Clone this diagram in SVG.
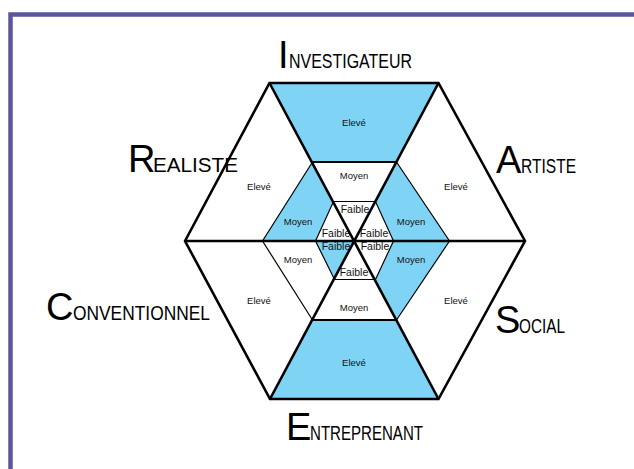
<svg xmlns="http://www.w3.org/2000/svg" width="634" height="469" viewBox="0 0 634 469">
<style>
.blue{fill:#7fd3f5;stroke:none}
.thick{stroke:#000;stroke-width:2.6;fill:none;stroke-linejoin:miter}
.mid{stroke:#000;stroke-width:1.8;fill:none}
.thin{stroke:#000;stroke-width:1.2;fill:none}
.lbl{font-family:"Liberation Sans",Arial,sans-serif;font-size:9.5px;fill:#111;text-anchor:middle}
.fb{font-family:"Liberation Sans",Arial,sans-serif;font-size:10.5px;fill:#111;text-anchor:middle}
.big{font-family:"Liberation Sans",Arial,sans-serif;font-size:38px;fill:#000}
.sm{font-family:"Liberation Sans",Arial,sans-serif;font-size:21px;fill:#000}
</style>
<rect x="0" y="0" width="634" height="469" fill="#fff"/>
<rect x="10.5" y="14.5" width="700" height="500" fill="none" stroke="#5b569b" stroke-width="4.5"/>

<g id="fills">
<polygon class="blue" points="269.5,83 438.5,83 396.5,162 312.5,162"/>
<polygon class="blue" points="312.5,320 396.5,320 438.5,399 270,399"/>
<polygon class="blue" points="312.5,162 333.5,201.5 315.5,241 262.5,241"/>
<polygon class="blue" points="396.5,162 449.5,241 393.5,241 375.5,201.5"/>
<polygon class="blue" points="393.5,241 449.5,241 396.5,320 375.5,279.5"/>
<polygon class="blue" points="315.5,241 354.5,241 334.5,279.5"/>
</g>

<g id="connectors">
<polyline class="thin" points="312.5,162 262.5,241 312.5,320"/>
<polyline class="thin" points="396.5,162 449.5,241 396.5,320"/>
<line class="mid" x1="312.5" y1="162" x2="396.5" y2="162"/>
<line class="mid" x1="312.5" y1="320" x2="396.5" y2="320"/>
<polygon class="thin" points="333.5,201.5 375.5,201.5 393.5,241 375.5,279.5 334.5,279.5 315.5,241"/>
<line class="thick" x1="269.5" y1="83" x2="438.5" y2="399"/>
<line class="thick" x1="438.5" y1="83" x2="270" y2="399"/>
<line class="thick" x1="185" y1="241" x2="525" y2="241"/>
<polygon class="thick" points="185,241 269.5,83 438.5,83 525,241 438.5,399 270,399"/>
</g>

<g id="investigateur">
<text class="big" x="278" y="68">I</text>
<text class="sm" x="289" y="68" textLength="123" lengthAdjust="spacingAndGlyphs">NVESTIGATEUR</text>
</g>
<g id="realiste">
<text class="big" x="128" y="172">R</text>
<text class="sm" x="153" y="172" textLength="85" lengthAdjust="spacingAndGlyphs">EALISTE</text>
</g>
<g id="artiste">
<text class="big" x="496" y="173">A</text>
<text class="sm" x="521" y="173" textLength="55" lengthAdjust="spacingAndGlyphs">RTISTE</text>
</g>
<g id="conventionnel">
<text class="big" x="46" y="320">C</text>
<text class="sm" x="73" y="320" textLength="137" lengthAdjust="spacingAndGlyphs">ONVENTIONNEL</text>
</g>
<g id="social">
<text class="big" x="495" y="333">S</text>
<text class="sm" x="519" y="333" textLength="46" lengthAdjust="spacingAndGlyphs">OCIAL</text>
</g>
<g id="entreprenant">
<text class="big" x="286" y="440">E</text>
<text class="sm" x="310" y="440" textLength="113" lengthAdjust="spacingAndGlyphs">NTREPRENANT</text>
</g>

<g id="eleve-labels">
<text class="lbl" x="354" y="126">Elevé</text>
<text class="lbl" x="259" y="190">Elevé</text>
<text class="lbl" x="456" y="190">Elevé</text>
<text class="lbl" x="259" y="304">Elevé</text>
<text class="lbl" x="456" y="304">Elevé</text>
<text class="lbl" x="354" y="366">Elevé</text>
</g>
<g id="moyen-labels">
<text class="lbl" x="354" y="179">Moyen</text>
<text class="lbl" x="298" y="225">Moyen</text>
<text class="lbl" x="411" y="225">Moyen</text>
<text class="lbl" x="298" y="263">Moyen</text>
<text class="lbl" x="411" y="263">Moyen</text>
<text class="lbl" x="354" y="311">Moyen</text>
</g>
<g id="faible-labels">
<text class="fb" x="355" y="213">Faible</text>
<text class="fb" x="336" y="237">Faible</text>
<text class="fb" x="374" y="237">Faible</text>
<text class="fb" x="336" y="250">Faible</text>
<text class="fb" x="375" y="250">Faible</text>
<text class="fb" x="354" y="276">Faible</text>
</g>
</svg>
